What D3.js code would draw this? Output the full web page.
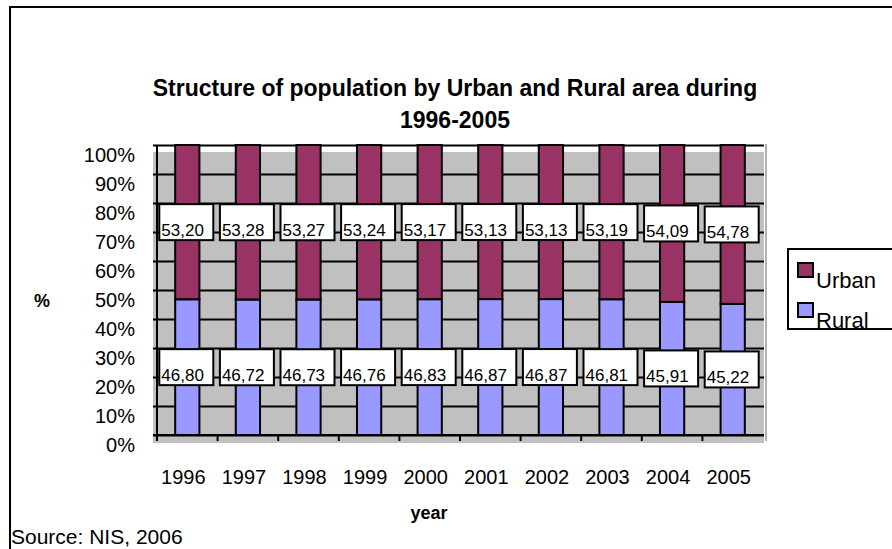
<!DOCTYPE html>
<html>
<head>
<meta charset="utf-8">
<script src="https://cdn.jsdelivr.net/npm/d3@7"></script>
<style>
html,body{margin:0;padding:0;background:#fff;}
svg{display:block;font-family:"Liberation Sans",Arial,sans-serif;}
</style>
</head>
<body>
<svg id="chart" width="892" height="549"></svg>
<script>
const years = ["1996","1997","1998","1999","2000","2001","2002","2003","2004","2005"];
const rural = [46.80,46.72,46.73,46.76,46.83,46.87,46.87,46.81,45.91,45.22];
const urban = [53.20,53.28,53.27,53.24,53.17,53.13,53.13,53.19,54.09,54.78];
const yTicks = [0,10,20,30,40,50,60,70,80,90,100];
const seriesNames = ["Urban","Rural"];
const colors = {Urban:"#993366", Rural:"#9999FF"};

const svg = d3.select("#chart");
const X0 = 157, X1 = 763, Y0 = 435, Y1 = 145;

const x = d3.scaleBand().domain(years).range([X0, X1]).paddingInner(0.6).paddingOuter(0.3);
const y = d3.scaleLinear().domain([0,100]).range([Y0, Y1]);
const fmt = v => v.toFixed(2).replace(".", ",");

// outer border (top & left)
svg.append("line").attr("x1",9).attr("x2",892).attr("y1",7).attr("y2",7).attr("stroke","#000").attr("stroke-width",2);
svg.append("line").attr("x1",10).attr("x2",10).attr("y1",6).attr("y2",549).attr("stroke","#000").attr("stroke-width",2);

// title
svg.append("text").attr("x",455).attr("y",96).attr("text-anchor","middle")
  .attr("font-size",23).attr("font-weight","bold").text("Structure of population by Urban and Rural area during");
svg.append("text").attr("x",455).attr("y",128).attr("text-anchor","middle")
  .attr("font-size",23).attr("font-weight","bold").text("1996-2005");

// plot area background (offset gray as in reference)
svg.append("rect").attr("x",153).attr("y",152).attr("width",611).attr("height",291).attr("fill","#C0C0C0");
svg.append("line").attr("x1",766).attr("x2",766).attr("y1",144).attr("y2",441).attr("stroke","#999").attr("stroke-width",1.5);

// gridlines
const yAxis = d3.axisLeft(y).tickValues(yTicks).tickSize(-(X1 - X0 + 1)).tickFormat("");
const gy = svg.append("g").attr("transform",`translate(${X0},0)`).call(yAxis);
gy.select(".domain").remove();
gy.selectAll(".tick line").attr("stroke","#000").attr("stroke-width",2).attr("x1",-4);

// y tick labels (offset down as in reference)
svg.append("g").selectAll("text").data(yTicks).join("text")
  .attr("x",135).attr("y",d => y(d) + 17).attr("text-anchor","end").attr("font-size",20)
  .text(d => d + "%");

// y axis line
svg.append("line").attr("x1",X0).attr("x2",X0).attr("y1",Y1).attr("y2",Y0+1).attr("stroke","#000").attr("stroke-width",2);

// x axis line and ticks
svg.append("line").attr("x1",153).attr("x2",X1+1).attr("y1",Y0).attr("y2",Y0).attr("stroke","#000").attr("stroke-width",2);
const step = x.step();
const bounds = d3.range(years.length).map(i => X0 + i*step);
svg.append("g").selectAll("line").data(bounds).join("line")
  .attr("x1",d=>d).attr("x2",d=>d).attr("y1",Y0).attr("y2",Y0+6).attr("stroke","#000").attr("stroke-width",2);

// x tick labels
svg.append("g").selectAll("text").data(years).join("text")
  .attr("x",d => x(d) + x.bandwidth()/2 - 4).attr("y",484).attr("text-anchor","middle").attr("font-size",20)
  .text(d => d);

// stacked bars
const rows = years.map((yr,i) => ({year:yr, Rural:rural[i], Urban:urban[i]}));
const stack = d3.stack().keys(["Rural","Urban"])(rows);
svg.append("g").selectAll("g").data(stack).join("g")
  .attr("fill", s => colors[s.key])
  .selectAll("rect").data(s => s).join("rect")
  .attr("x", d => x(d.data.year))
  .attr("width", x.bandwidth())
  .attr("y", d => y(d[1]))
  .attr("height", d => y(d[0]) - y(d[1]))
  .attr("stroke","#000").attr("stroke-width",2);

// data labels
const lbl = svg.append("g");
stack.forEach(s => {
  s.forEach(d => {
    const cx = x(d.data.year) + x.bandwidth()/2 - 1;
    const cy = y((d[0] + d[1]) / 2);
    const w = 54, h = 36;
    lbl.append("rect").attr("x",cx - w/2).attr("y",cy - h/2).attr("width",w).attr("height",h)
      .attr("fill","#fff").attr("stroke","#000").attr("stroke-width",2);
    lbl.append("text").attr("x",cx - w/2 + 2).attr("y",cy + h/2 - 4).attr("font-size",17)
      .text(fmt(d.data[s.key]));
  });
});

// axis titles
svg.append("text").attr("x",42).attr("y",307).attr("text-anchor","middle").attr("font-size",18).attr("font-weight","bold").text("%");
svg.append("text").attr("x",429).attr("y",519).attr("text-anchor","middle").attr("font-size",18).attr("font-weight","bold").text("year");

// source
svg.append("text").attr("x",11).attr("y",544).attr("font-size",21).text("Source: NIS, 2006");

// legend
const defs = svg.append("defs");
defs.append("clipPath").attr("id","legclip").append("rect").attr("x",788).attr("y",249).attr("width",104).attr("height",80);
const leg = svg.append("g");
leg.append("rect").attr("x",788).attr("y",249).attr("width",120).attr("height",80).attr("fill","#fff");
const legItems = leg.append("g").attr("clip-path","url(#legclip)");
const legY = {Urban:263, Rural:303};
seriesNames.forEach(n => {
  legItems.append("rect").attr("x",798).attr("y",legY[n]).attr("width",15).attr("height",14)
    .attr("fill",colors[n]).attr("stroke","#000").attr("stroke-width",2);
  legItems.append("text").attr("x",816).attr("y",legY[n] + 25).attr("font-size",22).text(n);
});
leg.append("rect").attr("x",788).attr("y",249).attr("width",120).attr("height",80).attr("fill","none").attr("stroke","#000").attr("stroke-width",2);
</script>
</body>
</html>
